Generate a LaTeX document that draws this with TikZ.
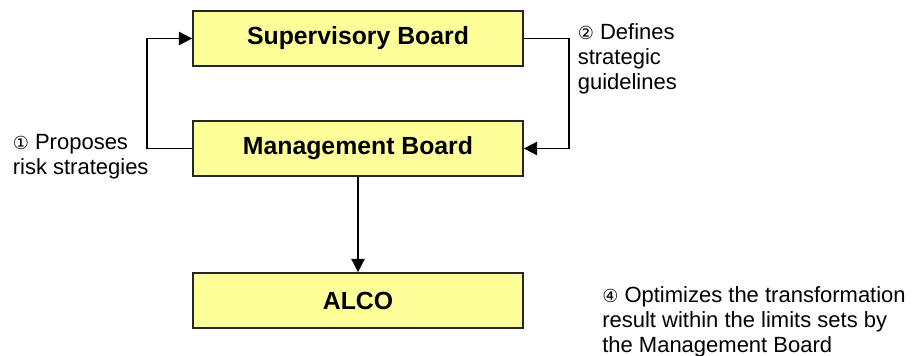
\documentclass[tikz,border=0pt]{standalone}
\usepackage{fontspec}
\setmainfont{Liberation Sans}
\newfontfamily\circfont{DejaVu Sans}
\usetikzlibrary{arrows.meta,positioning}
\definecolor{boxyellow}{HTML}{FFFF99}

\begin{document}
\begin{tikzpicture}[x=0.75pt,y=-0.75pt,
    board/.style={draw=black!85,fill=boxyellow,line width=1.3pt,
      minimum width=247.5pt,minimum height=41.25pt,
      font=\fontsize{18.6}{21}\selectfont\bfseries},
    note/.style={align=left,inner sep=0pt,
      font=\fontsize{16.5}{18.75}\selectfont},
    flow/.style={-{Triangle[length=10pt,width=10pt]},line width=1.3pt},
    node distance=82.5pt]

  \useasboundingbox (0,0) rectangle (915,356);

  \node[board]  (supBoard)  at (358,38.5)                     {Supervisory Board};
  \node[board]  (mgmtBoard)  [below of=supBoard]              {Management Board};
  \node[board]  (alco)
                  [below of=mgmtBoard, node distance=114pt]   {ALCO};

  % the numbered notes
  \node[note]   (proposes)
                  [left of=mgmtBoard, node distance=208pt, yshift=-6pt]
                  {{\circfont\fontsize{13.5}{18}\selectfont ①} Proposes\\risk strategies};
  \node[note]   (defines)
                  [right of=supBoard, node distance=202pt, yshift=-15.4pt]
                  {{\circfont\fontsize{13.5}{18}\selectfont ②} Defines\\strategic\\guidelines};
  \node[note]   (optimizes)
                  [right of=alco, node distance=297pt, yshift=-16pt]
                  {{\circfont\fontsize{13.5}{18}\selectfont ④} Optimizes the transformation\\result within the limits sets by\\the Management Board};

  \draw[flow] (mgmtBoard.west) -- ++(-45,0) |- (supBoard.west);
  \draw[flow] (supBoard.east) -- ++(45,0) |- (mgmtBoard.east);
  \draw[flow] (mgmtBoard.south) -- (alco.north);
\end{tikzpicture}
\end{document}
